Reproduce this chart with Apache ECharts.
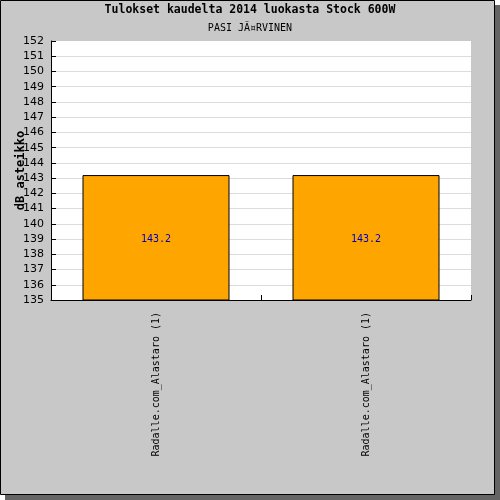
<!DOCTYPE html>
<html><head><meta charset="utf-8">
<script src="https://cdn.jsdelivr.net/npm/echarts@6/dist/echarts.min.js"></script>
<style>html,body{margin:0;padding:0;background:#fff}#c{width:500px;height:500px}</style>
</head><body><div id="c"></div>
<script>
const titleText = "Tulokset kaudelta 2014 luokasta Stock 600W";
const subtitleText = "PASI JÃ¤RVINEN";
const yAxisName = "dB asteikko";
const categories = ["Radalle.com_Alastaro (1)", "Radalle.com_Alastaro (1)"];
const values = [143.2, 143.2];
const yMin = 135, yMax = 152, yStep = 1;

const chart = echarts.init(document.getElementById('c'), null, {renderer: 'canvas'});
chart.setOption({
  animation: false,
  backgroundColor: '#ffffff',
  graphic: [
    {type: 'rect', z: -10, shape: {x: 5, y: 5, width: 495, height: 495}, style: {fill: '#646464'}},
    {type: 'rect', z: -9, shape: {x: 0.5, y: 0.5, width: 494, height: 494}, style: {fill: '#c8c8c8', stroke: '#000', lineWidth: 1}},
    {type: 'rect', z: -8, shape: {x: 51, y: 41, width: 420, height: 259}, style: {fill: '#ffffff'}},
    {type: 'text', left: 'center', top: 4, style: {text: titleText, font: 'bold 11.5px "DejaVu Sans Mono"', fill: '#000'}},
    {type: 'text', left: 'center', top: 23, style: {text: subtitleText, font: '10px "DejaVu Sans Mono"', fill: '#000'}}
  ],
  grid: {left: 51, right: 29, top: 41, bottom: 200, containLabel: false, outerBoundsMode: 'none'},
  xAxis: {
    type: 'category', data: categories,
    axisLine: {lineStyle: {color: '#000', width: 1}},
    axisTick: {show: true, inside: true, length: 5, lineStyle: {color: '#000'}},
    axisLabel: {rotate: 90, margin: 12, fontFamily: 'DejaVu Sans Mono', fontSize: 10, color: '#000'},
    splitLine: {show: false}
  },
  yAxis: {
    type: 'value', min: yMin, max: yMax, interval: yStep,
    name: yAxisName, nameLocation: 'middle', nameGap: 24, nameRotate: 90, nameMoveOverlap: false,
    nameTextStyle: {fontFamily: 'DejaVu Sans Mono', fontWeight: 'bold', fontSize: 12, color: '#000'},
    axisLine: {show: true, lineStyle: {color: '#000', width: 1}},
    axisTick: {show: true, inside: true, length: 5, lineStyle: {color: '#000'}},
    axisLabel: {margin: 7, fontFamily: 'DejaVu Sans', fontSize: 11, color: '#000'},
    splitLine: {show: true, showMaxLine: false, lineStyle: {color: '#dcdcdc', width: 1}}
  },
  series: [{
    type: 'bar', data: values, barWidth: '70%',
    itemStyle: {color: '#ffa500', borderColor: '#000', borderWidth: 1},
    label: {show: true, position: 'inside', offset: [0, 2], formatter: p => p.value.toFixed(1),
      fontFamily: 'DejaVu Sans Mono', fontSize: 10, color: '#0000c0'}
  }]
});
</script></body></html>
